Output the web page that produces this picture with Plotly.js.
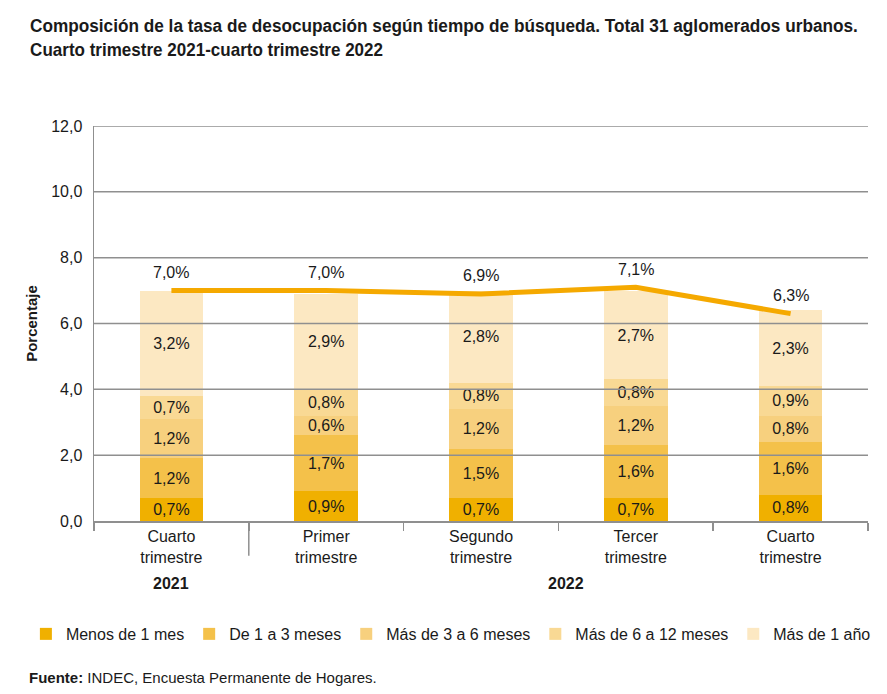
<!DOCTYPE html>
<html>
<head>
<meta charset="utf-8">
<script src="https://cdn.plot.ly/plotly-3.0.1.min.js"></script>
<style>html,body{margin:0;padding:0;background:#fff;}#chart{width:887px;height:694px;}</style>
</head>
<body>
<div id="chart"></div>
<script>
const quarters = ['Cuarto<br>trimestre', 'Primer<br>trimestre', 'Segundo<br>trimestre', 'Tercer<br>trimestre', 'Cuarto<br>trimestre'];
const yearLabels = ['2021', '2022'];
const seriesNames = ['Menos de 1 mes', 'De 1 a 3 meses', 'Más de 3 a 6 meses', 'Más de 6 a 12 meses', 'Más de 1 año'];
const menos1mes = [0.7, 0.9, 0.7, 0.7, 0.8];
const de1a3 = [1.2, 1.7, 1.5, 1.6, 1.6];
const de3a6 = [1.2, 0.6, 1.2, 1.2, 0.8];
const de6a12 = [0.7, 0.8, 0.8, 0.8, 0.9];
const mas1anio = [3.2, 2.9, 2.8, 2.7, 2.3];
const tasaTotal = [7.0, 7.0, 6.9, 7.1, 6.3];
const yTicks = [0, 2, 4, 6, 8, 10, 12];
const titleLines = ['Composición de la tasa de desocupación según tiempo de búsqueda. Total 31 aglomerados urbanos.',
                    'Cuarto trimestre 2021-cuarto trimestre 2022'];

const colors = ['#F0B000', '#F4C14A', '#F7D07E', '#F9D994', '#FCE8C2'];
const seriesValues = [menos1mes, de1a3, de3a6, de6a12, mas1anio];
const xIdx = quarters.map((_, i) => i);
const FONT = 'Liberation Sans, Arial, sans-serif';
const GRID = '#8f8f8f';

const traces = seriesValues.map((vals, i) => ({
  type: 'bar',
  name: seriesNames[i],
  x: xIdx,
  y: vals,
  marker: {color: colors[i], line: {width: 0}},
  texttemplate: '%{y:.1f}%',
  textposition: 'inside',
  insidetextanchor: 'middle',
  textangle: 0,
  textfont: {family: FONT, size: 16, color: '#1a1a1a'},
  hoverinfo: 'skip'
}));

traces.push({
  type: 'scatter',
  mode: 'lines',
  name: 'Total',
  x: xIdx,
  y: tasaTotal,
  line: {color: '#F5A900', width: 5},
  showlegend: false,
  hoverinfo: 'skip'
});

const shapes = yTicks.filter(v => v > 0).map(v => ({
  type: 'line', xref: 'paper', yref: 'y', x0: 0, x1: 1, y0: v, y1: v,
  line: {color: GRID, width: 1.5}, layer: 'above'
}));
// long divider between 2021 and 2022
shapes.push({type: 'line', xref: 'x', yref: 'paper', x0: 0.5, x1: 0.5, y0: 0, y1: -0.088,
  line: {color: GRID, width: 1.5}, layer: 'above'});

const annotations = [];
// title lines (narrowed after render to mimic the condensed face)
annotations.push({xref: 'paper', yref: 'paper', x: 0.452, y: 1.253, xanchor: 'center', yanchor: 'middle',
  text: '<b>' + titleLines[0] + '</b>', showarrow: false, font: {family: FONT, size: 18, color: '#1a1a1a'}});
annotations.push({xref: 'paper', yref: 'paper', x: 0.1453, y: 1.192, xanchor: 'center', yanchor: 'middle',
  text: '<b>' + titleLines[1] + '</b>', showarrow: false, font: {family: FONT, size: 18, color: '#1a1a1a'}});

tasaTotal.forEach((v, i) => annotations.push({
  xref: 'x', yref: 'y', x: xIdx[i], y: v,
  text: v.toFixed(1).replace('.', ',') + '%',
  showarrow: false, yshift: 18,
  font: {family: FONT, size: 16, color: '#1a1a1a'}
}));

annotations.push({xref: 'x', yref: 'paper', x: 0, y: -0.185, text: '<b>' + yearLabels[0] + '</b>',
  showarrow: false, font: {family: FONT, size: 16, color: '#1a1a1a'}});
annotations.push({xref: 'x', yref: 'paper', x: 2.55, y: -0.185, text: '<b>' + yearLabels[1] + '</b>',
  showarrow: false, font: {family: FONT, size: 16, color: '#1a1a1a'}});

annotations.push({
  xref: 'paper', yref: 'paper', x: -0.087, y: -0.395, xanchor: 'left', yanchor: 'middle',
  text: '<b>Fuente:</b> INDEC, Encuesta Permanente de Hogares.', showarrow: false,
  font: {family: FONT, size: 15, color: '#1a1a1a'}
});

const layout = {
  width: 887, height: 694,
  margin: {l: 94, r: 19, t: 126, b: 173},
  paper_bgcolor: '#fff', plot_bgcolor: '#fff',
  separators: ',.',
  barmode: 'stack',
  bargap: 0.59,
  showlegend: true,
  font: {family: FONT, size: 16, color: '#1a1a1a'},
  xaxis: {
    range: [-0.5, 4.5],
    tickvals: xIdx, ticktext: quarters,
    ticks: '',
    minor: {tickmode: 'linear', tick0: -0.5, dtick: 1, ticks: 'outside', ticklen: 8, tickcolor: GRID, tickwidth: 1.5, showgrid: false},
    showline: true, linecolor: GRID, linewidth: 1.5,
    tickfont: {family: FONT, size: 16, color: '#1a1a1a'},
    showgrid: false, zeroline: false
  },
  yaxis: {
    range: [0, 12], tickvals: yTicks, tickformat: '.1f',
    showgrid: false, zeroline: false,
    showline: true, linecolor: GRID, linewidth: 1.5,
    ticks: '', ticklabelstandoff: 7,
    tickfont: {family: FONT, size: 16, color: '#1a1a1a'},
    title: {text: '<b>Porcentaje</b>', font: {family: FONT, size: 15, color: '#1a1a1a'}, standoff: 10}
  },
  legend: {
    orientation: 'h', xref: 'paper', yref: 'paper', x: -0.088, xanchor: 'left', y: -0.286, yanchor: 'middle',
    font: {family: FONT, size: 16, color: '#1a1a1a'},
    traceorder: 'normal', itemclick: false, itemdoubleclick: false
  },
  uniformtext: {mode: 'show', minsize: 16},
  shapes: shapes,
  annotations: annotations
};

Plotly.newPlot('chart', traces, layout, {displayModeBar: false, staticPlot: true}).then(gd => {
  const targets = [828, 353];
  const anns = gd.querySelectorAll('.annotation');
  [0, 1].forEach(k => {
    const t = anns[k] && anns[k].querySelector('text');
    if (!t) return;
    const bb = t.getBBox();
    if (!bb.width) return;
    const s = targets[k] / bb.width;
    const cx = bb.x + bb.width / 2;
    t.setAttribute('transform', 'translate(' + cx + ' 0) scale(' + s + ' 1) translate(' + (-cx) + ' 0)');
  });
});
</script>
</body>
</html>
